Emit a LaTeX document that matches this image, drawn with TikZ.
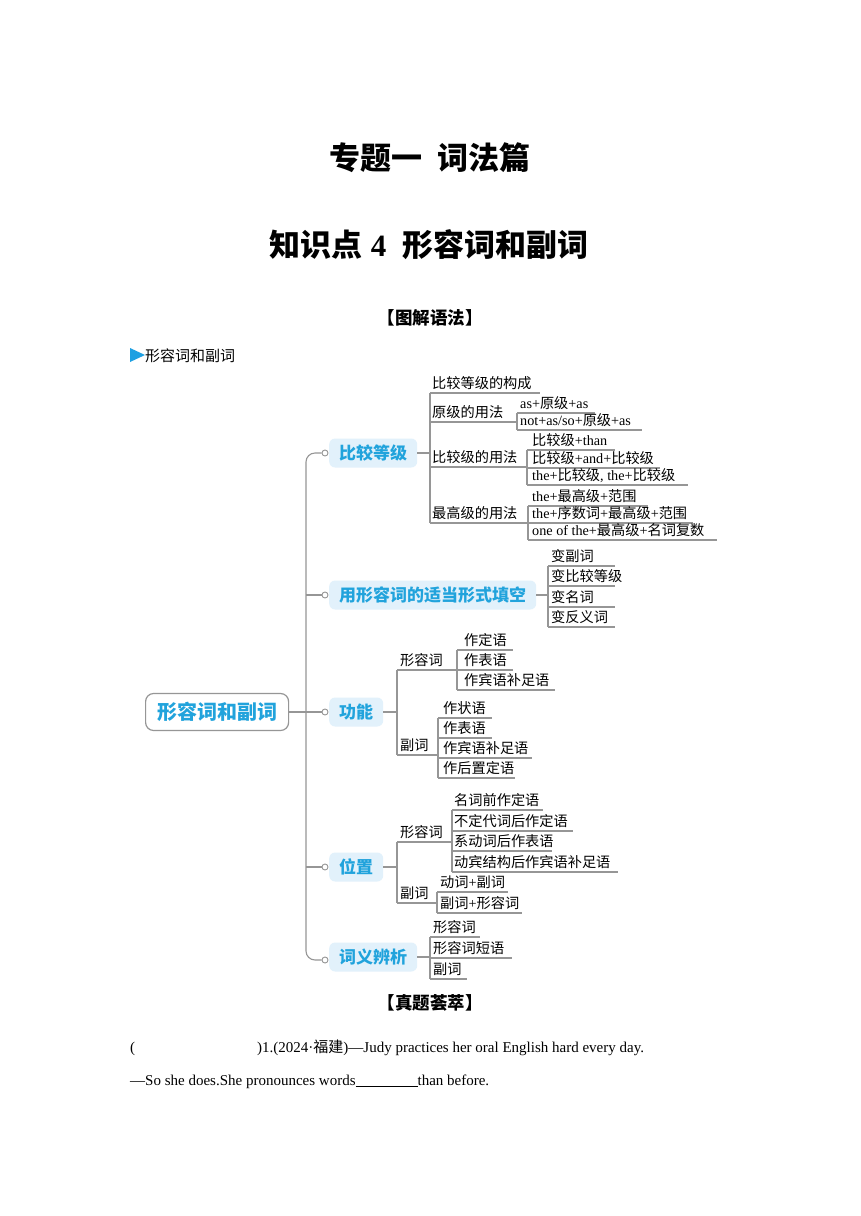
\documentclass[tikz,border=0pt]{standalone}
\usepackage{fontspec}
\setmainfont{Liberation Serif}
\newfontfamily\cjk{Noto Sans CJK SC}
\newcommand\zh[1]{{\cjk #1}}
\definecolor{nodeblue}{RGB}{33,163,220}
\definecolor{nodefill}{RGB}{226,241,251}
\definecolor{linegray}{RGB}{150,150,150}
\definecolor{tri}{RGB}{30,160,226}
\tikzset{
  conn/.style={draw=linegray, line width=1.1pt},
  leaf/.style={inner sep=0pt, font=\fontsize{14.2}{16}\selectfont, anchor=base west},
  mainbox/.style={fill=nodefill, rounded corners=6pt, text=nodeblue, font=\cjk\bfseries\fontsize{17}{19}\selectfont, minimum height=29pt, inner xsep=10pt, inner ysep=0pt, anchor=west},
  rootbox/.style={draw=linegray, line width=1.2pt, fill=white, rounded corners=8pt, text=nodeblue, font=\cjk\bfseries\fontsize{20}{22}\selectfont, minimum height=37pt, minimum width=143pt, inner sep=0pt, anchor=west},
  dot/.style={circle, draw=linegray, fill=white, line width=0.9pt, inner sep=0pt, minimum size=6pt},
  head/.style={font=\cjk\bfseries\fontsize{17.5}{20}\selectfont, inner sep=0pt},
  body/.style={anchor=base west, inner sep=0pt, font=\fontsize{15}{17}\selectfont},
}
\newcommand\mmleaf[6][3]{%
  \coordinate (#2-l) at (#3,#4);
  \draw[conn] (#2-l) -- (#5,#4);
  \node[leaf] (#2) at ([xshift=#1pt,yshift=4.5pt]#2-l) {#6};
}
\begin{document}
\begin{tikzpicture}[x=1pt,y=-1pt]
\fill[white] (0,0) rectangle (860,1216);
\useasboundingbox (0,0) rectangle (860,1216);

% titles
\node[font=\cjk\bfseries\fontsize{31}{34}\selectfont, inner sep=0pt] (t1) at (430,158) {专题一\hspace{16pt}词法篇};
\node[font=\bfseries\fontsize{31}{34}\selectfont, inner sep=0pt] (t2) at (429,245) {\zh{知识点}\hspace{8pt}4\hspace{16pt}\zh{形容词和副词}};
\node[head] (t3) at (430,318) {【图解语法】};
\fill[tri] (130,348) -- (145,355) -- (130,362) -- cycle;
\node[anchor=west, inner sep=0pt, font=\cjk\fontsize{15}{17}\selectfont] (t4) at (145,356) {形容词和副词};

% root and main nodes
\node[rootbox] (root) at (145,712) {形容词和副词};
\coordinate (T) at (306,712);
\node[dot] (cA) at (325,453) {};
\node[dot] (cB) at (325,595) {};
\node[dot] (cC) at (325,712) {};
\node[dot] (cD) at (325,867) {};
\node[dot] (cE) at (325,960) {};
\node[mainbox] (A) at (329,453) {比较等级};
\node[mainbox] (B) at (329,595) {用形容词的适当形式填空};
\node[mainbox] (C) at (329,712) {功能};
\node[mainbox] (D) at (329,867) {位置};
\node[mainbox] (E) at (329,957) {词义辨析};

\draw[conn, rounded corners=9pt] (cA.west) -| (T) |- (cE.west);
\draw[conn] (root.east) -- (T) -- (cC.west);
\draw[conn] (T |- cB) -- (cB.west);
\draw[conn] (T |- cD) -- (cD.west);

% group A
\mmleaf[2]{a1}{430}{393}{540}{\zh{比较等级的构成}}
\mmleaf[2]{a2}{430}{422}{517}{\zh{原级的用法}}
\mmleaf[2]{a3}{430}{467}{527}{\zh{比较级的用法}}
\mmleaf[2]{a4}{430}{523}{528}{\zh{最高级的用法}}
\draw[conn] (A.east) -- (A.east -| a1-l);
\draw[conn] (a1-l) -- (a4-l);
\mmleaf{a21}{517}{413}{595}{as+\zh{原级}+as}
\mmleaf{a22}{517}{430}{642}{not+as/so+\zh{原级}+as}
\draw[conn] (a21-l) -- (a22-l);
\mmleaf[5]{a31}{527}{450}{615}{\zh{比较级}+than}
\mmleaf[5]{a32}{527}{468}{660}{\zh{比较级}+and+\zh{比较级}}
\mmleaf[5]{a33}{527}{485}{688}{the+\zh{比较级}, the+\zh{比较级}}
\draw[conn] (a31-l) -- (a33-l);
\mmleaf[4]{a41}{528}{506}{648}{the+\zh{最高级}+\zh{范围}}
\mmleaf[4]{a42}{528}{523}{693}{the+\zh{序数词}+\zh{最高级}+\zh{范围}}
\mmleaf[4]{a43}{528}{540}{717}{one of the+\zh{最高级}+\zh{名词复数}}
\draw[conn] (a41-l) -- (a43-l);

% group B
\mmleaf{b1}{548}{566}{615}{\zh{变副词}}
\mmleaf{b2}{548}{586}{615}{\zh{变比较等级}}
\mmleaf{b3}{548}{607}{615}{\zh{变名词}}
\mmleaf{b4}{548}{627}{615}{\zh{变反义词}}
\draw[conn] (B.east) -- (B.east -| b1-l);
\draw[conn] (b1-l) -- (b4-l);

% group C
\mmleaf{c1}{397}{670}{457}{\zh{形容词}}
\mmleaf{c2}{397}{755}{438}{\zh{副词}}
\draw[conn] (C.east) -- (C.east -| c1-l);
\draw[conn] (c1-l) -- (c2-l);
\mmleaf[7]{c11}{457}{650}{513}{\zh{作定语}}
\mmleaf[7]{c12}{457}{670}{513}{\zh{作表语}}
\mmleaf[7]{c13}{457}{690}{555}{\zh{作宾语补足语}}
\draw[conn] (c11-l) -- (c13-l);
\mmleaf[5]{c21}{438}{718}{492}{\zh{作状语}}
\mmleaf[5]{c22}{438}{738}{492}{\zh{作表语}}
\mmleaf[5]{c23}{438}{758}{532}{\zh{作宾语补足语}}
\mmleaf[5]{c24}{438}{778}{515}{\zh{作后置定语}}
\draw[conn] (c21-l) -- (c24-l);

% group D
\mmleaf{d1}{397}{842}{452}{\zh{形容词}}
\mmleaf{d2}{397}{903}{437}{\zh{副词}}
\draw[conn] (D.east) -- (D.east -| d1-l);
\draw[conn] (d1-l) -- (d2-l);
\mmleaf[2]{d11}{452}{810}{543}{\zh{名词前作定语}}
\mmleaf[2]{d12}{452}{831}{573}{\zh{不定代词后作定语}}
\mmleaf[2]{d13}{452}{851}{552}{\zh{系动词后作表语}}
\mmleaf[2]{d14}{452}{872}{618}{\zh{动宾结构后作宾语补足语}}
\draw[conn] (d11-l) -- (d14-l);
\mmleaf[3]{d21}{437}{892}{508}{\zh{动词}+\zh{副词}}
\mmleaf[3]{d22}{437}{913}{522}{\zh{副词}+\zh{形容词}}
\draw[conn] (d21-l) -- (d22-l);

% group E
\mmleaf{e1}{430}{937}{480}{\zh{形容词}}
\mmleaf{e2}{430}{958}{512}{\zh{形容词短语}}
\mmleaf{e3}{430}{979}{467}{\zh{副词}}
\draw[conn] (E.east) -- (E.east -| e1-l);
\draw[conn] (e1-l) -- (e3-l);

% bottom
\node[head] (t5) at (430,1003) {【真题荟萃】};
\node[body] (q1a) at (130,1052) {(};
\node[body] (q1b) at (257,1052) {)1.(2024·\zh{福建})—Judy practices her oral English hard every day.};
\node[body] (q2) at (130,1085) {—So she does.She pronounces words\rule[-2pt]{62pt}{0.9pt}than before.};
\end{tikzpicture}
\end{document}
